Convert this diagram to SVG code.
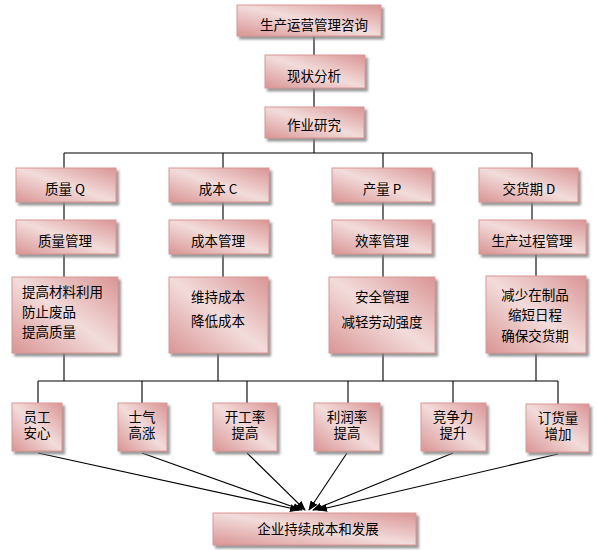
<svg xmlns="http://www.w3.org/2000/svg" width="597" height="550" viewBox="0 0 597 550">
<defs>
<linearGradient id="g" x1="1" y1="0" x2="0" y2="1">
<stop offset="0" stop-color="#d99594"/>
<stop offset="0.5" stop-color="#f2dcdb"/>
<stop offset="1" stop-color="#d99594"/>
</linearGradient>
<filter id="sh" x="-10%" y="-10%" width="130%" height="140%">
<feDropShadow dx="2.5" dy="3" stdDeviation="0.8" flood-color="#808080" flood-opacity="0.8"/>
</filter>
<marker id="ar" markerWidth="10" markerHeight="8" refX="9" refY="4" orient="auto" markerUnits="userSpaceOnUse">
<path d="M0,0 L10,4 L0,8 Z" fill="#000"/>
</marker>
</defs>
<style>
.b{fill:url(#g);stroke:#d99694;stroke-width:1;filter:url(#sh)}
.t{font-family:"Microsoft YaHei","Noto Sans CJK SC","Liberation Sans",sans-serif;font-size:13.5px;fill:#000;text-anchor:middle}
.l{font-family:"Microsoft YaHei","Noto Sans CJK SC","Liberation Sans",sans-serif;font-size:13.5px;fill:#000}
.c{stroke:#000;stroke-width:1.1;fill:none}
.a{stroke:#000;stroke-width:1.1;fill:none;marker-end:url(#ar)}
</style>
<rect width="597" height="550" fill="#fff"/>
<g id="connectors">
<path class="c" d="M314,36V55 M314,88V107 M314,138V153 M64,153H532 M64,153V168 M223,153V168 M383,153V168 M532,153V168"/>
<path class="c" d="M64,202V220 M223,202V220 M383,202V220 M532,202V220"/>
<path class="c" d="M64,254V277 M223,254V277 M383,254V277 M536,254V277"/>
<path class="c" d="M64,353V381 M218,353V381 M383,353V381 M536,353V381 M38,381H558 M38,381V403 M142,381V403 M247,381V403 M348,381V403 M453,381V403 M558,381V404"/>
<line class="a" x1="38" y1="453" x2="299" y2="510"/>
<line class="a" x1="142" y1="453" x2="302" y2="510"/>
<line class="a" x1="247" y1="453" x2="305" y2="510"/>
<line class="a" x1="347" y1="453" x2="309" y2="510"/>
<line class="a" x1="453" y1="453" x2="313" y2="510"/>
<line class="a" x1="558" y1="454" x2="318" y2="510"/>
</g>
<g id="n_top"><rect class="b" x="237" y="5" width="144" height="31"/><text class="t" x="314" y="30">生产运营管理咨询</text></g>
<g id="n_xz"><rect class="b" x="265" y="55" width="100" height="33"/><text class="t" x="314" y="81">现状分析</text></g>
<g id="n_zy"><rect class="b" x="265" y="107" width="99" height="31"/><text class="t" x="314" y="130">作业研究</text></g>

<g id="n_q"><rect class="b" x="16" y="168" width="100" height="34"/><text class="t" x="65" y="194">质量 Q</text></g>
<g id="n_c"><rect class="b" x="169" y="168" width="100" height="34"/><text class="t" x="218" y="194">成本 C</text></g>
<g id="n_p"><rect class="b" x="332" y="168" width="100" height="34"/><text class="t" x="382" y="194">产量 P</text></g>
<g id="n_d"><rect class="b" x="479" y="168" width="99" height="34"/><text class="t" x="529" y="194">交货期 D</text></g>

<g id="n_qm"><rect class="b" x="16" y="220" width="100" height="34"/><text class="t" x="65" y="246">质量管理</text></g>
<g id="n_cm"><rect class="b" x="169" y="220" width="100" height="34"/><text class="t" x="218" y="246">成本管理</text></g>
<g id="n_pm"><rect class="b" x="332" y="220" width="100" height="34"/><text class="t" x="382" y="246">效率管理</text></g>
<g id="n_dm"><rect class="b" x="479" y="220" width="107" height="34"/><text class="t" x="532" y="246">生产过程管理</text></g>

<g id="n_q3"><rect class="b" x="12" y="277" width="106" height="76"/><text class="l" x="22" y="297">提高材料利用</text><text class="l" x="22" y="317">防止废品</text><text class="l" x="22" y="337">提高质量</text></g>
<g id="n_c3"><rect class="b" x="169" y="277" width="99" height="76"/><text class="t" x="218" y="302">维持成本</text><text class="t" x="218" y="326">降低成本</text></g>
<g id="n_p3"><rect class="b" x="329" y="277" width="106" height="76"/><text class="t" x="382" y="302">安全管理</text><text class="t" x="382" y="327">减轻劳动强度</text></g>
<g id="n_d3"><rect class="b" x="486" y="276" width="100" height="77"/><text class="t" x="535" y="300">减少在制品</text><text class="t" x="535" y="320">缩短日程</text><text class="t" x="535" y="341">确保交货期</text></g>

<g id="n_r1"><rect class="b" x="12" y="403" width="50" height="48"/><text class="t" x="37" y="422">员工</text><text class="t" x="37" y="438">安心</text></g>
<g id="n_r2"><rect class="b" x="118" y="403" width="49" height="48"/><text class="t" x="142" y="422">士气</text><text class="t" x="142" y="438">高涨</text></g>
<g id="n_r3"><rect class="b" x="213" y="403" width="64" height="48"/><text class="t" x="245" y="422">开工率</text><text class="t" x="245" y="438">提高</text></g>
<g id="n_r4"><rect class="b" x="314" y="403" width="66" height="48"/><text class="t" x="347" y="422">利润率</text><text class="t" x="347" y="438">提高</text></g>
<g id="n_r5"><rect class="b" x="421" y="403" width="65" height="48"/><text class="t" x="453" y="422">竞争力</text><text class="t" x="453" y="438">提升</text></g>
<g id="n_r6"><rect class="b" x="526" y="404" width="63" height="48"/><text class="t" x="558" y="423">订货量</text><text class="t" x="558" y="439">增加</text></g>

<g id="n_final"><rect class="b" x="213" y="513" width="203" height="32"/><text class="t" x="318" y="534">企业持续成本和发展</text></g>
</svg>
